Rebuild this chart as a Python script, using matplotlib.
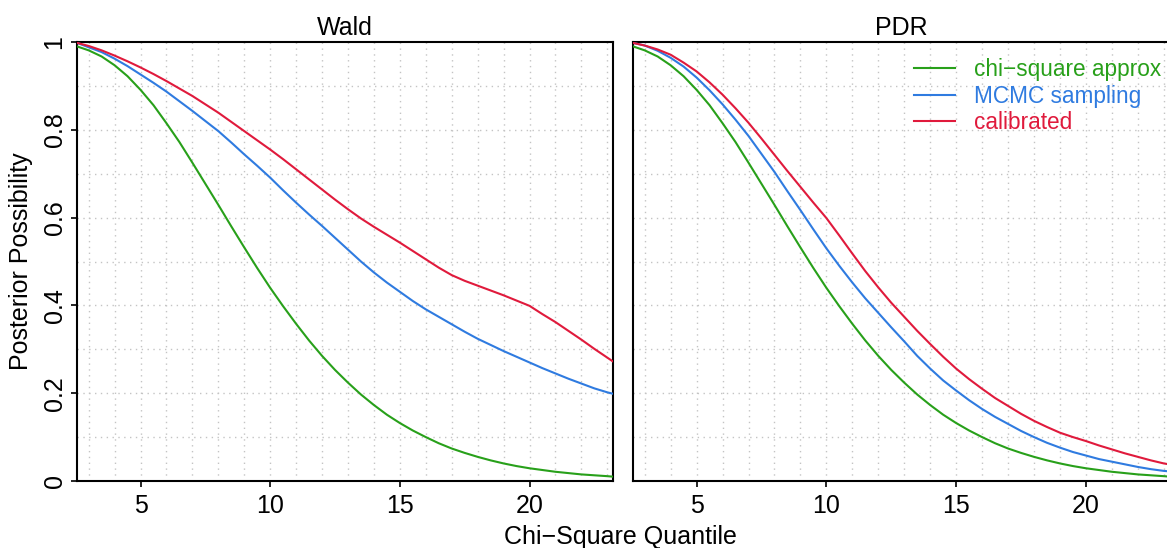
import numpy as np
import matplotlib
matplotlib.use("Agg")
import matplotlib.pyplot as plt

plt.rcParams["font.family"] = ["Liberation Sans", "DejaVu Sans"]

# Chi-square quantile grid shared by every curve
quantile = [2.55, 3.0, 3.5, 4.0, 4.5, 5.0, 5.5, 6.0, 6.5, 7.0, 7.5, 8.0, 8.5, 9.0,
            9.5, 10.0, 10.5, 11.0, 11.5, 12.0, 12.5, 13.0, 13.5, 14.0, 14.5, 15.0,
            15.5, 16.0, 16.5, 17.0, 17.5, 18.0, 18.5, 19.0, 19.5, 20.0, 20.5, 21.0,
            21.5, 22.0, 22.5, 23.0, 23.2]

# chi-square approximation (same in both panels)
chisq_approx = [0.990, 0.981, 0.967, 0.947, 0.922, 0.891, 0.856, 0.815, 0.772, 0.725,
                0.677, 0.629, 0.580, 0.532, 0.485, 0.440, 0.398, 0.358, 0.320, 0.285,
                0.253, 0.224, 0.197, 0.173, 0.151, 0.132, 0.115, 0.100, 0.086, 0.074,
                0.064, 0.055, 0.047, 0.040, 0.034, 0.029, 0.025, 0.021, 0.018, 0.015,
                0.013, 0.011, 0.010]

# Wald statistic
wald_mcmc = [0.998, 0.988, 0.977, 0.962, 0.945, 0.926, 0.907, 0.887, 0.865, 0.843,
             0.820, 0.797, 0.771, 0.744, 0.718, 0.691, 0.662, 0.634, 0.607, 0.581,
             0.554, 0.527, 0.500, 0.475, 0.452, 0.431, 0.410, 0.391, 0.374, 0.357,
             0.340, 0.324, 0.310, 0.296, 0.283, 0.270, 0.257, 0.245, 0.233, 0.222,
             0.211, 0.202, 0.199]
wald_calibrated = [0.998, 0.991, 0.981, 0.969, 0.956, 0.942, 0.927, 0.911, 0.894, 0.877,
                   0.858, 0.839, 0.818, 0.797, 0.776, 0.755, 0.733, 0.710, 0.687, 0.664,
                   0.641, 0.619, 0.598, 0.579, 0.561, 0.543, 0.524, 0.505, 0.486, 0.469,
                   0.456, 0.445, 0.434, 0.423, 0.411, 0.399, 0.380, 0.362, 0.342, 0.322,
                   0.301, 0.281, 0.273]

# PDR statistic
pdr_mcmc = [0.998, 0.992, 0.980, 0.964, 0.944, 0.919, 0.890, 0.858, 0.823, 0.786,
            0.745, 0.704, 0.660, 0.617, 0.573, 0.530, 0.490, 0.452, 0.416, 0.383,
            0.350, 0.318, 0.285, 0.256, 0.229, 0.206, 0.184, 0.164, 0.146, 0.130,
            0.114, 0.100, 0.087, 0.076, 0.066, 0.058, 0.050, 0.044, 0.038, 0.032,
            0.027, 0.023, 0.022]
pdr_calibrated = [0.998, 0.992, 0.983, 0.971, 0.953, 0.933, 0.908, 0.880, 0.849, 0.816,
                  0.780, 0.743, 0.706, 0.670, 0.634, 0.599, 0.559, 0.518, 0.478, 0.441,
                  0.406, 0.374, 0.342, 0.312, 0.283, 0.256, 0.232, 0.210, 0.189, 0.171,
                  0.153, 0.137, 0.123, 0.110, 0.100, 0.091, 0.081, 0.072, 0.063, 0.055,
                  0.047, 0.040, 0.038]

panel_titles = ["Wald", "PDR"]
series_labels = ["chi\u2212square approx", "MCMC sampling", "calibrated"]
series_colors = ["#28a01a", "#2f7be0", "#e01a3c"]
x_ticks = [5, 10, 15, 20]
y_ticks = [0, 0.2, 0.4, 0.6, 0.8, 1]
y_ticklabels = ["0", "0.2", "0.4", "0.6", "0.8", "1"]

FS = 18
LEG_FS = 16.3
W, H = 1167, 548
fig = plt.figure(figsize=(W / 100, H / 100), dpi=100)
ax_l = fig.add_axes([77 / W, 1 - 481 / H, 535.5 / W, 439 / H])
ax_r = fig.add_axes([633 / W, 1 - 481 / H, 536 / W, 439 / H])

panels = [
    (ax_l, [chisq_approx, wald_mcmc, wald_calibrated]),
    (ax_r, [chisq_approx, pdr_mcmc, pdr_calibrated]),
]

grid_kw = dict(color="#c4c4c4", lw=1.0, ls=(0, (1, 3.2)), zorder=0)

for (ax, series), title in zip(panels, panel_titles):
    ax.set_xlim(2.55, 23.2)
    ax.set_ylim(0, 1)
    for gx in range(3, 24):
        ax.axvline(gx, **grid_kw)
    for gy in np.arange(0.1, 1.0, 0.1):
        ax.axhline(gy, **grid_kw)
    for vals, lab, col in zip(series, series_labels, series_colors):
        ax.plot(quantile, vals, color=col, lw=1.5, label=lab, zorder=3)
    ax.set_title(title, fontsize=FS, pad=5)
    ax.set_xticks(x_ticks)
    ax.set_xticklabels([str(t) for t in x_ticks])
    ax.tick_params(axis="x", direction="out", length=4.5, width=1.2,
                   labelsize=FS, pad=5)
    for sp in ax.spines.values():
        sp.set_linewidth(1.5)

ax_l.set_yticks(y_ticks)
ax_l.set_yticklabels(y_ticklabels, rotation=90, va="center")
ax_l.tick_params(axis="y", direction="out", length=4.5, width=1.2,
                 labelsize=FS, pad=3)
ax_r.set_yticks([])

ax_r.legend(loc="upper left", bbox_to_anchor=(914 / W, 1 - 58.3 / H),
            bbox_transform=fig.transFigure, frameon=False, fontsize=LEG_FS,
            handlelength=1.81, handletextpad=0.84, labelspacing=0.15,
            borderpad=0, borderaxespad=0, labelcolor="linecolor")

fig.text(620 / W, 1 - 544 / H, "Chi\u2212Square Quantile", fontsize=FS,
         ha="center", va="baseline")
fig.text(21 / W, 1 - 261.5 / H, "Posterior Possibility", fontsize=FS,
         rotation=90, ha="center", va="center")

fig.savefig("out.png", dpi=100)
